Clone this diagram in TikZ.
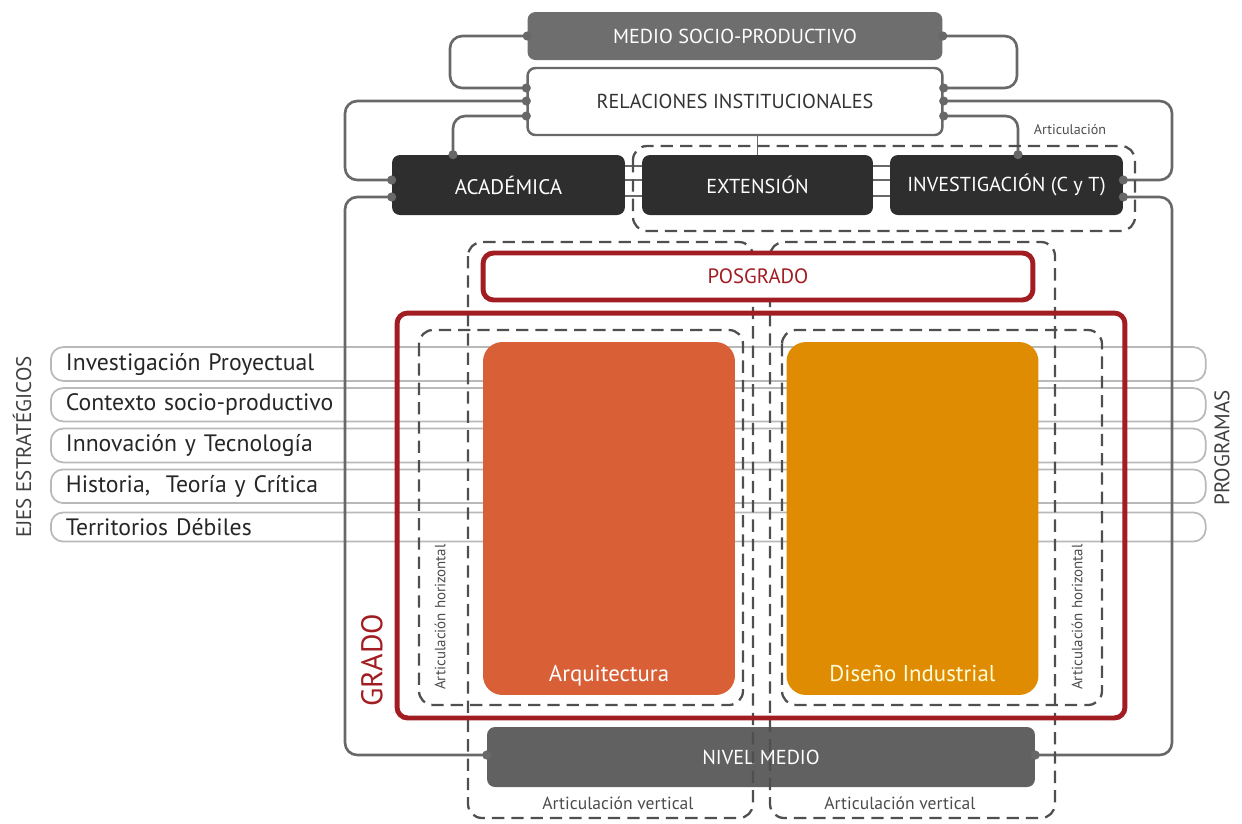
\documentclass[tikz,border=0pt]{standalone}
\usepackage{fontspec}
\setmainfont{PT Sans}
\usepackage{tikz}
\usetikzlibrary{positioning}
\definecolor{linegray}{HTML}{686868}
\definecolor{medgray}{HTML}{6E6E6E}
\definecolor{darkbox}{HTML}{2E2E2E}
\definecolor{nivgray}{HTML}{616161}
\definecolor{gradored}{HTML}{A11D22}
\definecolor{arqorange}{HTML}{D95F37}
\definecolor{disorange}{HTML}{E08C02}
\definecolor{stripgray}{HTML}{B9B9B9}
\definecolor{dashgray}{HTML}{4F4F4F}
\tikzset{box/.style={rectangle,rounded corners=4.5pt,minimum height=1.2cm,text=white,font=\fontsize{11.5}{13}\selectfont},
  dark/.style={box,fill=darkbox,minimum width=4.66cm},
  redbox/.style={draw=gradored,line width=2.8pt,rounded corners=6pt},
  eje/.style={draw=stripgray,line width=1pt,rounded corners=7pt,minimum height=0.54cm,text width=22.5cm,inner xsep=0.3cm,align=left,anchor=west,text=black!85,font=\fontsize{13.5}{15}\selectfont},
  prog/.style={fill,rounded corners=11pt,minimum width=5.04cm,minimum height=7.06cm},
  proglbl/.style={font=\fontsize{13}{15}\selectfont,text height=1.6ex,text depth=0.5ex},
  link/.style={draw=linegray,line width=1.5pt,rounded corners=7pt},
  artic/.style={draw=dashgray,line width=1.3pt,dash pattern=on 7pt off 4pt,rounded corners=8pt},
  small/.style={text=black!70,font=\fontsize{9}{10}\selectfont}}

\begin{document}
\begin{tikzpicture}[x=0.02cm,y=-0.02cm]
\useasboundingbox (0,0) rectangle (1242,823);

% ejes
\foreach \t [count=\i] in {Investigación Proyectual,Contexto socio-productivo,Innovación y Tecnología,{Historia,~ Teoría y Crítica},Territorios Débiles}
  \node[eje] (eje\i) at (50,{364+40.75*(\i-1)}) {\t};
\node[rotate=90,text=black!75,font=\fontsize{12}{14}\selectfont] (ejes) at (22,447) {EJES ESTRATÉGICOS};
\node[rotate=90,text=black!75,font=\fontsize{12}{14}\selectfont] (progs) at (1222,448) {PROGRAMAS};

% top boxes
\node[box,fill=medgray,minimum width=8.3cm,minimum height=0.96cm] (medio) at (735,36) {MEDIO SOCIO-PRODUCTIVO};
\node[box,draw=linegray,line width=1.4pt,fill=white,text=black!80,minimum width=8.3cm,minimum height=1.34cm] (rel) at (735,101.5) {RELACIONES INSTITUCIONALES};
\node[dark,font=\fontsize{12}{13}\selectfont] (acad) at (508.5,185) {ACADÉMICA};
\node[dark,minimum width=4.62cm] (ext) at (757.5,185) {EXTENSIÓN};
\node[dark] (inv) at (1006.5,185) {INVESTIGACIÓN (C y T)};
\node[box,fill=nivgray,minimum width=10.96cm] (nivel) at (761,757) {NIVEL MEDIO};

% links
\draw[link] (medio.west) -| (450,88) -- (rel.west |- 0,88);
\draw[link] (rel.west |- 0,101) -| (345,180) -- (acad.west |- 0,180);
\draw[link] (rel.west |- 0,116) -| (acad.north -| 453,0);
\draw[link] (acad.west |- 0,197) -| (345,755) -- (nivel.west |- 0,755);
\draw[link] (medio.east) -| (1017,88) -- (rel.east |- 0,88);
\draw[link] (rel.east |- 0,101) -| (1172,180) -- (inv.east |- 0,180);
\draw[link] (rel.east |- 0,116) -| (inv.north -| 1018,0);
\draw[link] (inv.east |- 0,197) -| (1172,755) -- (nivel.east |- 0,755);
\draw[link,line width=1pt] (rel.south -| ext.north) -- (ext.north);
\foreach \y in {166,180,196} {
  \draw[link,line width=1pt] (acad.east |- 0,\y) -- (ext.west |- 0,\y);
  \draw[link,line width=1pt] (ext.east |- 0,\y) -- (inv.west |- 0,\y);
}

% articulaciones
\draw[artic] (633,146) rectangle (1135,231);
\node[small,font=\fontsize{8}{9}\selectfont] (artlbl) at (1070,130) {Articulación};
\draw[artic] (468,242) rectangle (753,818);
\draw[artic] (770,242) rectangle (1055,818);
\draw[artic] (419,330) rectangle (743,705);
\draw[artic] (782,330) rectangle (1102,705);

% grado y posgrado
\node[redbox,minimum width=14.56cm,minimum height=8.1cm] (grado) at (761,515.5) {};
\node[rotate=90,text=gradored,font=\fontsize{17}{19}\selectfont] (gradolbl) at (372,660) {GRADO};
\node[redbox,fill=white,minimum width=11cm,minimum height=0.94cm,text=gradored,font=\fontsize{11.8}{13}\selectfont] (pos) at (758,276.5) {POSGRADO};
\node[prog,fill=arqorange] (arq) at (609,518.5) {};
\node[prog,fill=disorange] (dis) at (912.5,518.5) {};
\node[above=0.06cm of arq.south,proglbl,text=white] (arqlbl) {Arquitectura};
\node[above=0.06cm of dis.south,proglbl,text=yellow!15] (dislbl) {Diseño Industrial};
\node[rotate=90,small,font=\fontsize{8.5}{10}\selectfont] (horl) at (440,617) {Articulación horizontal};
\node[rotate=90,small,font=\fontsize{8.5}{10}\selectfont] (horr) at (1077,617) {Articulación horizontal};
\node[small,font=\fontsize{10}{12}\selectfont] (verl) at (618,803) {Articulación vertical};
\node[small,font=\fontsize{10}{12}\selectfont] (verr) at (900,803) {Articulación vertical};

% dots
\foreach \p in {(medio.west),(medio.east),(rel.west |- 0,88),(rel.west |- 0,101),(rel.west |- 0,116),(rel.east |- 0,88),(rel.east |- 0,101),(rel.east |- 0,116),(acad.north -| 453,0),(inv.north -| 1018,0),(acad.west |- 0,180),(acad.west |- 0,197),(inv.east |- 0,180),(inv.east |- 0,197),(nivel.west |- 0,755),(nivel.east |- 0,755)}
  \fill[linegray] \p circle (2.6pt);
\end{tikzpicture}
\end{document}
